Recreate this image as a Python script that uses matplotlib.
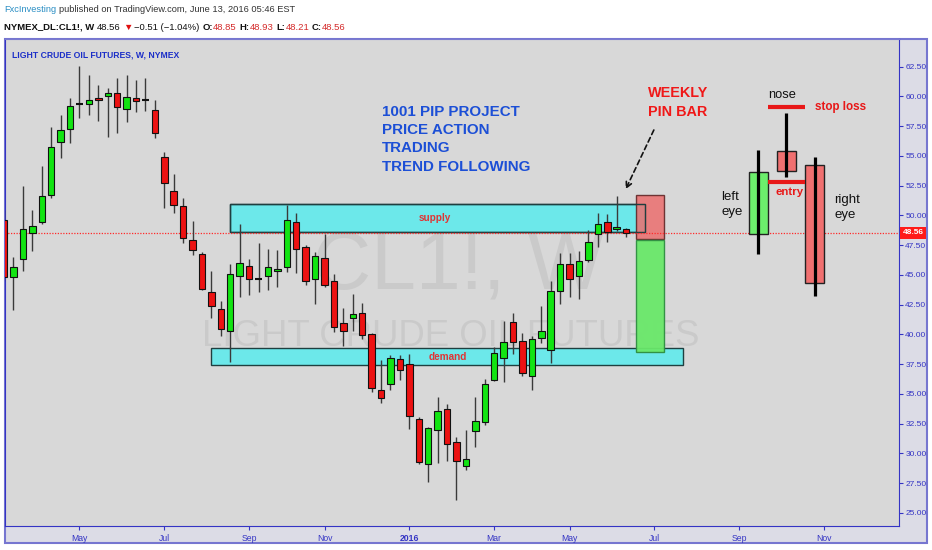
import pandas as pd
import numpy as np
import matplotlib
matplotlib.use("Agg")
import matplotlib.pyplot as plt
import matplotlib.dates as mdates
import matplotlib.transforms as mtransforms
from matplotlib.patches import Rectangle

# velas semanais CL1! (semana de 09/03/2015 ate 13/06/2016)
inicio = "2015-03-09"
aberturas = [49.6, 44.81, 46.30, 48.49, 49.41, 51.73, 56.14, 57.26, 59.40, 59.36,
             59.87, 60.04, 60.26, 58.92, 59.84, 59.67, 58.86, 54.88, 52.07, 50.78,
             47.92, 46.80, 43.53, 42.15, 40.27, 44.92, 45.76, 44.67, 44.90, 45.29,
             45.63, 49.44, 47.31, 44.67, 46.41, 44.48, 40.92, 41.42, 41.76, 40.05,
             35.37, 35.81, 37.92, 37.55, 32.93, 29.14, 31.94, 33.77, 30.94, 28.98,
             31.86, 32.64, 36.15, 38.06, 41.03, 39.49, 36.51, 39.66, 38.73, 43.66,
             45.88, 44.92, 46.24, 48.43, 49.46, 48.82, 48.85]
maximas = [50.5, 46.50, 52.47, 50.45, 54.15, 57.40, 58.41, 59.87, 62.56, 61.80,
           60.96, 60.68, 61.57, 61.83, 61.38, 61.57, 59.70, 55.35, 53.48, 51.43,
           49.52, 46.94, 45.34, 42.83, 45.88, 49.27, 46.33, 47.70, 47.14, 47.08,
           50.87, 50.17, 47.50, 46.94, 48.43, 45.07, 42.18, 43.38, 42.65, 40.10,
           37.83, 38.25, 38.25, 38.34, 33.10, 32.20, 34.75, 34.13, 31.38, 31.94,
           34.75, 36.29, 38.95, 41.14, 41.81, 40.13, 39.85, 42.37, 44.48, 46.81,
           46.81, 46.99, 48.77, 50.17, 50.09, 51.63, 48.93]
minimas = [44.5, 42.04, 45.34, 47.03, 49.30, 51.50, 54.85, 56.11, 58.21, 58.44,
           57.96, 56.56, 56.90, 57.88, 58.72, 58.80, 56.48, 50.59, 50.17, 47.70,
           46.66, 43.70, 41.34, 39.85, 37.69, 43.16, 43.33, 43.58, 43.72, 43.95,
           45.23, 45.17, 44.16, 42.54, 44.00, 40.21, 38.99, 40.30, 39.62, 35.17,
           34.24, 35.37, 36.15, 32.09, 29.10, 27.60, 29.20, 29.36, 26.06, 28.64,
           30.54, 32.40, 36.10, 36.01, 38.36, 36.50, 35.30, 39.30, 37.60, 42.54,
           43.16, 43.02, 46.10, 47.36, 47.78, 48.70, 48.21]
fechamentos = [44.8, 45.68, 48.82, 49.13, 51.63, 55.72, 57.15, 59.17, 59.40, 59.70,
               59.67, 60.26, 59.08, 59.93, 59.59, 59.67, 56.90, 52.69, 50.84, 48.07,
               47.08, 43.78, 42.40, 40.47, 45.12, 46.02, 44.62, 44.67, 45.63, 45.46,
               49.61, 47.14, 44.50, 46.58, 44.16, 40.63, 40.30, 41.70, 39.95, 35.52,
               34.65, 38.00, 36.99, 33.12, 29.28, 32.14, 33.57, 30.83, 29.36, 29.53,
               32.70, 35.81, 38.48, 39.40, 39.40, 36.76, 39.62, 40.30, 43.66, 45.88,
               44.62, 46.16, 47.73, 49.27, 48.57, 49.04, 48.56]
ultimo_preco = 48.56

# zonas (semana inicial, semana final, preco de baixo, preco de cima)
zona_oferta = (24, 68, 48.62, 50.93)
zona_demanda = (22, 72, 37.47, 38.87)
caixa_stop = (67, 70, 47.98, 51.71)
caixa_alvo = (67, 70, 38.53, 47.90)

# desenho explicativo do pin bar: (semana, abertura, maxima, minima, fechamento)
olho_esquerdo = (80, 48.40, 55.50, 46.80, 53.67)
nariz = (83, 55.41, 58.58, 53.25, 53.75)
olho_direito = (86, 54.20, 54.93, 43.21, 44.33)
linha_stop = (81, 85, 59.08)
linha_entrada = (81, 85, 52.85)

texto_projeto = ["1001 PIP PROJECT", "PRICE ACTION", "TRADING", "TREND FOLLOWING"]
texto_pin = ["WEEKLY", "PIN BAR"]

LARGURA, ALTURA = 932, 550

plt.rcParams["font.family"] = ["Liberation Sans", "DejaVu Sans"]

semanas = pd.date_range(inicio, periods=len(aberturas), freq="7D")
x = mdates.date2num(semanas)
base = x[0]


def sem(i):
    return base + 7 * i


fig = plt.figure(figsize=(LARGURA / 100, ALTURA / 100), dpi=100)
fig.patch.set_facecolor("#ffffff")

# moldura clara em volta do grafico e dos eixos
moldura = Rectangle((5 / LARGURA, 7 / ALTURA), 922 / LARGURA, 504 / ALTURA,
                    transform=fig.transFigure, facecolor="#dcdce6",
                    edgecolor="#7676d0", lw=1.5, zorder=0)
fig.add_artist(moldura)

ax = fig.add_axes([5 / LARGURA, 24 / ALTURA, 894 / LARGURA, 487 / ALTURA])
ax.set_facecolor("#d8d8d8")
for lado in ["left", "bottom", "right"]:
    ax.spines[lado].set_color("#3434c4")
ax.spines["top"].set_color("#7a7ad0")

ax.set_xlim(sem(0.1), sem(94.95))
ax.set_ylim(23.9, 64.83)

# marca d'agua
ax.text(sem(48.2), 43.9, "CL1!, W", fontsize=58, color="#cacaca",
        ha="center", va="baseline", zorder=0.5)
ax.text(sem(47.4), 39.05, "LIGHT CRUDE OIL FUTURES", fontsize=26.3,
        color="#cacaca", ha="center", va="baseline", zorder=0.5)


def caixa(zona, cor, borda, alpha=1.0, z=1):
    ini, fim, baixo, cima = zona
    ax.add_patch(Rectangle((sem(ini), baixo), sem(fim) - sem(ini), cima - baixo,
                           facecolor=cor, edgecolor=borda, lw=1, alpha=alpha, zorder=z))


caixa(zona_oferta, "#6ce8ea", "#1f3f40")
caixa(zona_demanda, "#6ce8ea", "#1f3f40")
caixa(caixa_stop, "#ec6e6e", "#5a1f1f", alpha=0.85, z=1.2)
caixa(caixa_alvo, "#6ae86a", "#2e8e40", alpha=0.95, z=1.2)
ini, fim, baixo, cima = zona_oferta
ax.add_patch(Rectangle((sem(ini), baixo), sem(fim) - sem(ini), cima - baixo,
                       fill=False, edgecolor="#1f3f40", lw=1, zorder=1.3))

ax.text(sem(45.7), 49.79, "supply", color="#e03434", fontsize=7.2,
        fontweight="bold", ha="center", va="center", zorder=1.5)
ax.text(sem(47.1), 38.12, "demand", color="#e03434", fontsize=7.2,
        fontweight="bold", ha="center", va="center", zorder=1.5)

ax.axhline(ultimo_preco, color="#ff2a2a", lw=0.9, ls=(0, (1, 1.2)), zorder=2)

# velas
abre = np.array(aberturas)
fecha = np.array(fechamentos)
alta = fecha > abre
doji = np.abs(fecha - abre) < 0.05
ax.vlines(x, minimas, maximas, color="#3a3a3a", lw=1, zorder=3)
largura_vela = 4.8
for cond, cor in [(alta & ~doji, "#12e412"), (~alta & ~doji, "#ec1212")]:
    ax.bar(x[cond], np.abs(fecha - abre)[cond], bottom=np.minimum(abre, fecha)[cond],
           width=largura_vela, color=cor, edgecolor="#111111", lw=0.8, zorder=4)
ax.hlines(fecha[doji], x[doji] - largura_vela / 2, x[doji] + largura_vela / 2,
          color="#111111", lw=1.5, zorder=4)

# desenho do pin bar
for vela in [olho_esquerdo, nariz, olho_direito]:
    i, o, h, l, c = vela
    cor = "#6cee6c" if c > o else "#f07070"
    ax.add_patch(Rectangle((sem(i - 1), min(o, c)), sem(i + 1) - sem(i - 1), abs(c - o),
                           facecolor=cor, edgecolor="#222222", lw=1, zorder=4))
    ax.vlines(sem(i), l, h, color="#000000", lw=2.3, zorder=5)
for linha in [linha_stop, linha_entrada]:
    ax.hlines(linha[2], sem(linha[0]), sem(linha[1]), color="#e81818", lw=3, zorder=5)

ax.text(sem(82.5), 60.12, "nose", fontsize=9.3, color="#111111",
        ha="center", va="center")
ax.text(sem(86.0), 59.09, "stop loss", fontsize=8.4, color="#e81818",
        fontweight="bold", ha="left", va="center")
ax.text(sem(83.3), 52.0, "entry", fontsize=8.2, color="#e81818",
        fontweight="bold", ha="center", va="center")
for k, t in enumerate(["left", "eye"]):
    ax.text(sem(76.1), 51.58 - 1.26 * k, t, fontsize=9.5, color="#111111",
            ha="left", va="center")
for k, t in enumerate(["right", "eye"]):
    ax.text(sem(88.1), 51.3 - 1.26 * k, t, fontsize=9.5, color="#111111",
            ha="left", va="center")

for k, t in enumerate(texto_projeto):
    ax.text(sem(40.1), 58.72 - 1.54 * k, t, fontsize=10.9, color="#1c4fd6",
            fontweight="bold", ha="left", va="center")
for k, t in enumerate(texto_pin):
    ax.text(sem(68.3), 60.29 - 1.57 * k, t, fontsize=10.4, color="#f01818",
            fontweight="bold", ha="left", va="center")

ax.annotate("", xy=(sem(65.95), 52.2), xytext=(sem(68.94), 57.18),
            arrowprops=dict(arrowstyle="->", linestyle=(0, (3, 2)), color="#111111",
                            lw=1.2, shrinkA=0, shrinkB=0), zorder=6)

# eixos
ax.yaxis.tick_right()
ax.set_yticks(np.arange(25, 62.51, 2.5))
ax.yaxis.set_major_formatter(matplotlib.ticker.FormatStrFormatter("%.2f"))
ax.tick_params(axis="y", colors="#3434c4", labelsize=6, length=3,
               pad=1.5, width=0.8)

meses = pd.date_range("2015-05-01", "2016-11-01", freq="2MS")
marcas = []
rotulos = []
for m in meses:
    segunda = m + pd.Timedelta(days=(7 - m.weekday()) % 7)
    marcas.append(mdates.date2num(segunda))
    rotulos.append(str(m.year) if m.month == 1 else m.strftime("%b"))
ax.set_xticks(marcas)
ax.set_xticklabels(rotulos)
ax.tick_params(axis="x", colors="#3434c4", labelsize=6.2, length=3,
               pad=3, width=0.8)
for r in ax.get_xticklabels():
    if r.get_text().isdigit():
        r.set_fontweight("bold")

trans = mtransforms.blended_transform_factory(ax.transAxes, ax.transData)
ax.text(1.004, ultimo_preco, "48.56", transform=trans, color="white",
        fontsize=6, fontweight="bold", ha="left", va="center",
        bbox=dict(boxstyle="square,pad=0.3", facecolor="#ff1a1a", edgecolor="none"),
        clip_on=False, zorder=7)

# titulo interno
fig.text(12 / LARGURA, 1 - 55 / ALTURA, "LIGHT CRUDE OIL FUTURES, W, NYMEX",
         fontsize=6.2, color="#1c2fc8", fontweight="bold", ha="left", va="center")


def escrever_pedacos(x_px, y_px, pedacos, tamanho):
    renderer = fig.canvas.get_renderer()
    for texto, cor, peso, espaco in pedacos:
        t = fig.text(x_px / LARGURA, 1 - y_px / ALTURA, texto, color=cor,
                     fontsize=tamanho, fontweight=peso, ha="left", va="center")
        x_px += t.get_window_extent(renderer).width + espaco


vermelho = "#d42a2a"
escrever_pedacos(4, 10, [
    ("FxcInvesting", "#2a8ec4", "normal", 3),
    ("published on TradingView.com, June 13, 2016 05:46 EST", "#333333", "normal", 0),
], 6.7)
escrever_pedacos(4, 27, [
    ("NYMEX_DL:CL1!, W", "#111111", "bold", 3),
    ("48.56", "#111111", "normal", 2),
    ("\u25bc", "#e01010", "normal", 2),
    ("\u22120.51 (\u22121.04%)", "#111111", "normal", 3),
    ("O:", "#111111", "bold", 0), ("48.85", vermelho, "normal", 3),
    ("H:", "#111111", "bold", 0), ("48.93", vermelho, "normal", 3),
    ("L:", "#111111", "bold", 0), ("48.21", vermelho, "normal", 3),
    ("C:", "#111111", "bold", 0), ("48.56", vermelho, "normal", 0),
], 6.8)

fig.savefig("out.png", dpi=100)
